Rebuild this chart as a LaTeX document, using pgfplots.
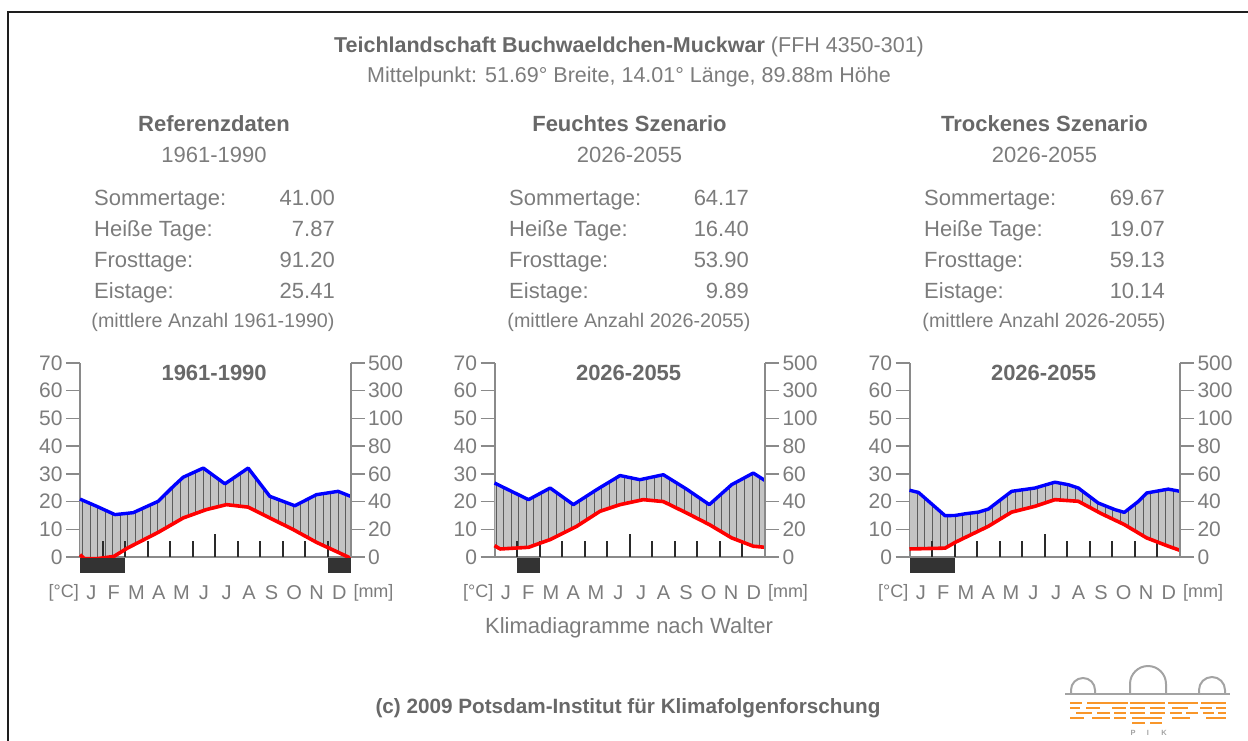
\documentclass[border=0pt]{standalone}
\usepackage{fontspec}
\setmainfont{Liberation Sans}
\usepackage{pgfplots}
\pgfplotsset{compat=1.18}
\usepackage{pgfplotstable}
\usepgfplotslibrary{fillbetween}
\usetikzlibrary{patterns.meta}

\definecolor{txt}{HTML}{7C7C7C}
\definecolor{txtb}{HTML}{686868}
\definecolor{axgray}{HTML}{8A8A8A}
\definecolor{hatchbg}{HTML}{C4C4C4}
\definecolor{hatchln}{HTML}{5C5C5C}
\definecolor{barblk}{HTML}{333333}
\definecolor{mtick}{HTML}{2A2A2A}
\definecolor{pikorange}{HTML}{F8962A}
\definecolor{pikgray}{HTML}{A3A3A3}
\definecolor{frame}{HTML}{1E1E1E}

\newcommand\fs[1]{\fontsize{#1}{#1}\selectfont}

% precipitation (in temperature units, 10 C = 20 mm) and temperature
\pgfplotstableread{
x y
0 20.9
0.74 18.3
1.55 15.3
2.36 16.0
3.47 20.1
4.14 25.5
4.58 28.8
5.47 32.1
6.43 26.4
7.46 32.1
8.42 21.9
9.53 18.5
10.49 22.5
11.45 23.7
12 21.9
}\refP
\pgfplotstableread{
x y
0 0.8
0.2 -0.6
0.75 -0.6
1.5 0.2
2.1 3.2
3.47 8.9
4.58 14.1
5.6 17.1
6.5 18.9
7.46 18.0
8.42 14.1
9.46 9.9
10.49 5.3
11.45 1.7
12 -0.4
}\refT
\pgfplotstableread{
x y
0 26.7
1.51 20.7
2.47 24.9
3.50 18.9
4.53 24.3
5.57 29.4
6.45 27.9
7.49 29.7
8.52 24.5
9.53 18.9
10.52 26.1
11.48 30.3
12 27.6
}\feuP
\pgfplotstableread{
x y
0 4.1
0.25 2.9
1.51 3.5
2.47 6.3
3.65 11.1
4.68 16.5
5.57 18.9
6.6 20.7
7.49 20.0
8.52 15.9
9.53 11.7
10.52 6.9
11.48 3.9
12 3.5
}\feuT
\pgfplotstableread{
x y
0 24.1
0.4 23.3
1.58 14.9
2.03 15.0
2.47 15.6
3.06 16.2
3.50 17.3
4.53 23.7
5.57 24.9
6.45 27.0
7.04 26.1
7.49 24.9
8.37 19.5
9.11 17.1
9.53 16.1
10.16 20.1
10.52 23.1
11.48 24.5
12 23.7
}\troP
\pgfplotstableread{
x y
0 2.9
1.58 3.2
2.03 5.3
3.50 11.1
4.53 16.2
5.57 18.3
6.45 20.7
7.49 20.1
8.52 15.6
9.53 11.7
10.52 6.9
11.48 3.9
12 2.4
}\troT

\tikzset{
  mlab/.style={font=\fs{20}, text=txt, inner sep=0pt},
  stat/.style={font=\fs{22}, text=txt, inner sep=0pt},
  mt/.style={draw=mtick, line width=2pt},
}

\pgfplotsset{
  walterbase/.style={
    scale only axis, width=270.5pt, height=194pt,
    xmin=0, xmax=12, ymin=0, ymax=70, clip=false,
    anchor=origin,
    xtick=\empty,
    ytick={0,10,20,30,40,50,60,70},
    axis line style={draw=axgray, line width=2pt},
    tick style={draw=axgray, line width=1.5pt},
    yticklabel style={font=\fs{21}, text=txt},
  },
  walterL/.style={
    walterbase,
    axis y line*=left, axis x line*=bottom,
    tick align=outside, major tick length=14pt,
    yticklabels={0,10,20,30,40,50,60,70},
  },
  walterR/.style={
    walterbase,
    axis y line*=right, axis x line=none,
    tick align=outside, major tick length=14pt,
    yticklabels={0,20,40,60,80,100,300,500},
  },
}

\newcommand\walterdeco{%
  \pgfplotsinvokeforeach{1,2,3,4,5,7,8,9,10,11}{\draw[mt] (axis cs:##1,0) -- (axis cs:##1,5.7);}
  \draw[mt] (axis cs:6,0) -- (axis cs:6,8.4);
  \node[mlab] at (axis cs:0.5,-12.8) {J};
  \node[mlab] at (axis cs:1.5,-12.8) {F};
  \node[mlab] at (axis cs:2.5,-12.8) {M};
  \node[mlab] at (axis cs:3.5,-12.8) {A};
  \node[mlab] at (axis cs:4.5,-12.8) {M};
  \node[mlab] at (axis cs:5.5,-12.8) {J};
  \node[mlab] at (axis cs:6.5,-12.8) {J};
  \node[mlab] at (axis cs:7.5,-12.8) {A};
  \node[mlab] at (axis cs:8.5,-12.8) {S};
  \node[mlab] at (axis cs:9.5,-12.8) {O};
  \node[mlab] at (axis cs:10.5,-12.8) {N};
  \node[mlab] at (axis cs:11.5,-12.8) {D};
  \node[mlab, font=\fs{18}] at (axis cs:-0.72,-12.8) {[°C]};
  \node[mlab, font=\fs{18}] at (axis cs:13.02,-12.8) {[mm]};
}

\newcommand\climate[3]{% precip table, temp table, title
  \addplot[draw=none, name path=P] table {#1};
  \addplot[draw=none, name path=T] table {#2};
  \addplot[fill=hatchbg, draw=none,
    postaction={pattern={Lines[angle=90,distance=7.52pt,line width=1pt]}, pattern color=hatchln}]
    fill between[of=P and T];
  \walterdeco
  \addplot[red, line width=3.6pt, line join=round] table {#2};
  \addplot[blue, line width=3.4pt, line join=round] table {#1};
  \node[font=\fs{22}\bfseries, text=txtb] at (axis cs:5.95,66.3) {#3};
}

\newcommand\statsblock[8]{%
  \node[stat, anchor=base west] at (#1,205) {Sommertage:};
  \node[stat, anchor=base east] at (#2,205) {#4};
  \node[stat, anchor=base west] at (#1,236) {Heiße Tage:};
  \node[stat, anchor=base east] at (#2,236) {#5};
  \node[stat, anchor=base west] at (#1,267) {Frosttage:};
  \node[stat, anchor=base east] at (#2,267) {#6};
  \node[stat, anchor=base west] at (#1,298) {Eistage:};
  \node[stat, anchor=base east] at (#2,298) {#7};
  \node[stat, font=\fs{19.7}] at (#3,322) {(mittlere Anzahl #8)};
}

\begin{document}
\begin{tikzpicture}
\begin{scope}[x=1pt, y=-1pt]
  \path[use as bounding box] (0,0) rectangle (1248,740);
  \draw[frame, line width=2pt] (8,741) -- (8,11.5) -- (1249,11.5);

  \node[font=\fs{21.5}, text=txt] at (629,47)
    {\textcolor{txtb}{\bfseries Teichlandschaft Buchwaeldchen-Muckwar} (FFH 4350-301)};
  \node[font=\fs{21.5}, text=txt] at (629,77)
    {Mittelpunkt: 51.69° Breite, 14.01° Länge, 89.88m Höhe};

  \node[font=\fs{22}\bfseries, text=txtb] at (214,124) {Referenzdaten};
  \node[font=\fs{22}, text=txt] at (214,155) {1961-1990};
  \node[font=\fs{22}\bfseries, text=txtb] at (629.5,124) {Feuchtes Szenario};
  \node[font=\fs{22}, text=txt] at (629.5,155) {2026-2055};
  \node[font=\fs{22}\bfseries, text=txtb] at (1044.5,124) {Trockenes Szenario};
  \node[font=\fs{22}, text=txt] at (1044.5,155) {2026-2055};

  \statsblock{94}{335}{213}{41.00}{7.87}{91.20}{25.41}{1961-1990}
  \statsblock{509}{749}{629}{64.17}{16.40}{53.90}{9.89}{2026-2055}
  \statsblock{924}{1165}{1044}{69.67}{19.07}{59.13}{10.14}{2026-2055}

  \node[font=\fs{22}, text=txt] at (629,628) {Klimadiagramme nach Walter};
  \node[font=\fs{20.7}\bfseries, text=txtb] at (628,708) {(c) 2009 Potsdam-Institut für Klimafolgenforschung};

  % PIK logo
  \draw[pikgray, line width=2pt] (1065,694) -- (1230,694);
  \draw[pikgray, line width=2pt] (1071,694) -- (1071,690) arc[start angle=180, end angle=0, radius=12pt] -- (1095,694);
  \draw[pikgray, line width=2pt] (1130,694) -- (1130,684) arc[start angle=180, end angle=0, radius=18pt] -- (1166,694);
  \draw[pikgray, line width=2pt] (1199,694) -- (1199,690) arc[start angle=180, end angle=0, radius=13pt] -- (1225,694);
  \begin{scope}[pikorange, line width=2.4pt]
    \foreach \a/\b in {1070/1082,1087/1128,1130/1165,1168/1198,1201/1226} \draw (\a,703) -- (\b,703);
    \foreach \a/\b in {1070/1080,1086/1100,1112/1126,1130/1145,1150/1165,1172/1188,1200/1212,1216/1226} \draw (\a,708) -- (\b,708);
    \foreach \a/\b in {1076/1092,1097/1110,1114/1126,1130/1145,1150/1165,1170/1182,1186/1198,1203/1214,1218/1226} \draw (\a,713) -- (\b,713);
    \foreach \a/\b in {1070/1084,1092/1110,1114/1126,1132/1162,1172/1190,1206/1226} \draw (\a,718) -- (\b,718);
    \foreach \a/\b in {1132/1145,1150/1162} \draw (\a,723) -- (\b,723);
  \end{scope}
  \node[font=\fs{7.5}\bfseries, text=pikgray, inner sep=0pt] at (1133,733) {P};
  \node[font=\fs{7.5}\bfseries, text=pikgray, inner sep=0pt] at (1148,733) {I};
  \node[font=\fs{7.5}\bfseries, text=pikgray, inner sep=0pt] at (1164,733) {K};
\end{scope}

% ---- Chart 1: Referenzdaten
\begin{axis}[walterL, at={(80pt,-557pt)}]
  \climate{\refP}{\refT}{1961-1990}
  \addplot[fill=barblk, draw=none] coordinates {(0,-0.4) (2,-0.4) (2,-5.8) (0,-5.8)};
  \addplot[fill=barblk, draw=none] coordinates {(11,-0.4) (12,-0.4) (12,-5.8) (11,-5.8)};
\end{axis}
\begin{axis}[walterR, at={(80pt,-557pt)}]
\end{axis}

% ---- Chart 2: Feuchtes Szenario
\begin{axis}[walterL, at={(494.5pt,-557pt)}]
  \climate{\feuP}{\feuT}{2026-2055}
  \addplot[fill=barblk, draw=none] coordinates {(1,-0.4) (2,-0.4) (2,-5.8) (1,-5.8)};
\end{axis}
\begin{axis}[walterR, at={(494.5pt,-557pt)}]
\end{axis}

% ---- Chart 3: Trockenes Szenario
\begin{axis}[walterL, at={(909.5pt,-557pt)}]
  \climate{\troP}{\troT}{2026-2055}
  \addplot[fill=barblk, draw=none] coordinates {(0,-0.4) (2,-0.4) (2,-5.8) (0,-5.8)};
\end{axis}
\begin{axis}[walterR, at={(909.5pt,-557pt)}]
\end{axis}
\end{tikzpicture}
\end{document}
